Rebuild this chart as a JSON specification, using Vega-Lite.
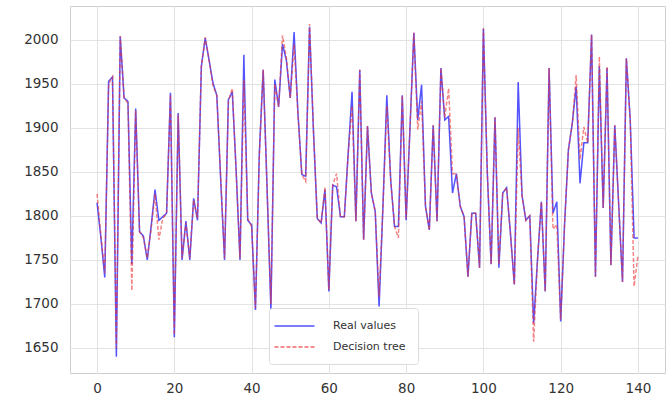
{
  "$schema": "https://vega.github.io/schema/vega-lite/v6.json",
  "width": 595,
  "height": 367,
  "autosize": {"type": "none"},
  "padding": {"left": 70, "top": 6, "right": 7, "bottom": 37},
  "background": "white",
  "config": {
    "view": {"stroke": "#cfcfcf", "strokeWidth": 1},
    "axis": {
      "domain": false,
      "ticks": false,
      "grid": true,
      "gridColor": "#e3e3e3",
      "gridWidth": 1,
      "labelFont": "DejaVu Sans",
      "labelFontSize": 13.5,
      "labelColor": "#333333",
      "title": null
    },
    "legend": {
      "orient": "none",
      "legendX": 199,
      "legendY": 302,
      "fillColor": "white",
      "strokeColor": "#dcdcdc",
      "cornerRadius": 3,
      "padding": 12,
      "rowPadding": 10,
      "labelFont": "DejaVu Sans",
      "labelFontSize": 11,
      "labelColor": "#333333",
      "labelOffset": 40,
      "symbolType": "M-2.5,0H5.5",
      "symbolSize": 100,
      "symbolStrokeWidth": 1.5,
      "title": null
    }
  },
  "data": {
    "values": [
      {"i":0,"real":1815,"tree":1825},{"i":1,"real":1775,"tree":1778},{"i":2,"real":1730,"tree":1735},{"i":3,"real":1953,"tree":1950},{"i":4,"real":1958,"tree":1958},
      {"i":5,"real":1640,"tree":1650},{"i":6,"real":2004,"tree":2004},{"i":7,"real":1934,"tree":1934},{"i":8,"real":1930,"tree":1928},{"i":9,"real":1745,"tree":1715},
      {"i":10,"real":1922,"tree":1920},{"i":11,"real":1782,"tree":1782},{"i":12,"real":1777,"tree":1775},{"i":13,"real":1750,"tree":1752},{"i":14,"real":1788,"tree":1785},
      {"i":15,"real":1830,"tree":1825},{"i":16,"real":1795,"tree":1773},{"i":17,"real":1799,"tree":1797},{"i":18,"real":1803,"tree":1803},{"i":19,"real":1940,"tree":1938},
      {"i":20,"real":1662,"tree":1665},{"i":21,"real":1917,"tree":1915},{"i":22,"real":1750,"tree":1752},{"i":23,"real":1794,"tree":1792},{"i":24,"real":1750,"tree":1752},
      {"i":25,"real":1820,"tree":1818},{"i":26,"real":1795,"tree":1797},{"i":27,"real":1970,"tree":1970},{"i":28,"real":2002,"tree":2003},{"i":29,"real":1977,"tree":1977},
      {"i":30,"real":1951,"tree":1948},{"i":31,"real":1937,"tree":1937},{"i":32,"real":1841,"tree":1845},{"i":33,"real":1750,"tree":1752},{"i":34,"real":1932,"tree":1930},
      {"i":35,"real":1941,"tree":1945},{"i":36,"real":1852,"tree":1850},{"i":37,"real":1750,"tree":1752},{"i":38,"real":1983,"tree":1955},{"i":39,"real":1795,"tree":1797},
      {"i":40,"real":1790,"tree":1788},{"i":41,"real":1693,"tree":1695},{"i":42,"real":1871,"tree":1868},{"i":43,"real":1966,"tree":1966},{"i":44,"real":1833,"tree":1830},
      {"i":45,"real":1692,"tree":1700},{"i":46,"real":1955,"tree":1950},{"i":47,"real":1924,"tree":1924},{"i":48,"real":1995,"tree":2005},{"i":49,"real":1977,"tree":1980},
      {"i":50,"real":1934,"tree":1934},{"i":51,"real":2009,"tree":1995},{"i":52,"real":1917,"tree":1915},{"i":53,"real":1847,"tree":1847},{"i":54,"real":1845,"tree":1839},
      {"i":55,"real":2015,"tree":2018},{"i":56,"real":1898,"tree":1898},{"i":57,"real":1797,"tree":1797},{"i":58,"real":1792,"tree":1792},{"i":59,"real":1830,"tree":1833},
      {"i":60,"real":1714,"tree":1716},{"i":61,"real":1835,"tree":1835},{"i":62,"real":1833,"tree":1848},{"i":63,"real":1799,"tree":1799},{"i":64,"real":1799,"tree":1799},
      {"i":65,"real":1871,"tree":1871},{"i":66,"real":1941,"tree":1925},{"i":67,"real":1794,"tree":1794},{"i":68,"real":1966,"tree":1966},{"i":69,"real":1773,"tree":1773},
      {"i":70,"real":1902,"tree":1902},{"i":71,"real":1826,"tree":1826},{"i":72,"real":1805,"tree":1805},{"i":73,"real":1697,"tree":1708},{"i":74,"real":1811,"tree":1811},
      {"i":75,"real":1937,"tree":1925},{"i":76,"real":1841,"tree":1841},{"i":77,"real":1788,"tree":1788},{"i":78,"real":1788,"tree":1775},{"i":79,"real":1937,"tree":1937},
      {"i":80,"real":1795,"tree":1797},{"i":81,"real":1900,"tree":1900},{"i":82,"real":2008,"tree":2008},{"i":83,"real":1909,"tree":1898},{"i":84,"real":1949,"tree":1930},
      {"i":85,"real":1811,"tree":1811},{"i":86,"real":1784,"tree":1784},{"i":87,"real":1903,"tree":1903},{"i":88,"real":1794,"tree":1794},{"i":89,"real":1968,"tree":1968},
      {"i":90,"real":1909,"tree":1912},{"i":91,"real":1913,"tree":1945},{"i":92,"real":1826,"tree":1848},{"i":93,"real":1848,"tree":1848},{"i":94,"real":1811,"tree":1811},
      {"i":95,"real":1799,"tree":1799},{"i":96,"real":1731,"tree":1731},{"i":97,"real":1803,"tree":1803},{"i":98,"real":1803,"tree":1803},{"i":99,"real":1741,"tree":1741},
      {"i":100,"real":2013,"tree":2013},{"i":101,"real":1850,"tree":1850},{"i":102,"real":1745,"tree":1745},{"i":103,"real":1912,"tree":1912},{"i":104,"real":1741,"tree":1745},
      {"i":105,"real":1826,"tree":1826},{"i":106,"real":1832,"tree":1832},{"i":107,"real":1780,"tree":1780},{"i":108,"real":1722,"tree":1722},{"i":109,"real":1952,"tree":1900},
      {"i":110,"real":1823,"tree":1823},{"i":111,"real":1795,"tree":1795},{"i":112,"real":1800,"tree":1800},{"i":113,"real":1678,"tree":1657},{"i":114,"real":1750,"tree":1750},
      {"i":115,"real":1816,"tree":1816},{"i":116,"real":1714,"tree":1714},{"i":117,"real":1968,"tree":1968},{"i":118,"real":1803,"tree":1785},{"i":119,"real":1816,"tree":1790},
      {"i":120,"real":1680,"tree":1682},{"i":121,"real":1790,"tree":1790},{"i":122,"real":1875,"tree":1875},{"i":123,"real":1905,"tree":1905},{"i":124,"real":1947,"tree":1960},
      {"i":125,"real":1837,"tree":1864},{"i":126,"real":1883,"tree":1901},{"i":127,"real":1883,"tree":1883},{"i":128,"real":2006,"tree":2006},{"i":129,"real":1731,"tree":1731},
      {"i":130,"real":1970,"tree":1981},{"i":131,"real":1809,"tree":1809},{"i":132,"real":1968,"tree":1970},{"i":133,"real":1744,"tree":1744},{"i":134,"real":1903,"tree":1903},
      {"i":135,"real":1814,"tree":1814},{"i":136,"real":1725,"tree":1725},{"i":137,"real":1979,"tree":1979},{"i":138,"real":1909,"tree":1909},{"i":139,"real":1775,"tree":1720},
      {"i":140,"real":1775,"tree":1755}
    ]
  },
  "encoding": {
    "x": {
      "field": "i",
      "type": "quantitative",
      "scale": {"domain": [-7, 147], "nice": false, "zero": false},
      "axis": {"values": [0, 20, 40, 60, 80, 100, 120, 140], "labelPadding": 8}
    }
  },
  "layer": [
    {
      "mark": {"type": "line", "strokeWidth": 1.5, "opacity": 0.75},
      "encoding": {
        "y": {
          "field": "real",
          "type": "quantitative",
          "scale": {"domain": [1621.5, 2038.5], "nice": false, "zero": false},
          "axis": {"values": [1650, 1700, 1750, 1800, 1850, 1900, 1950, 2000], "format": "d", "labelPadding": 12}
        },
        "color": {
          "datum": "Real values",
          "type": "nominal",
          "scale": {"domain": ["Real values", "Decision tree"], "range": ["#1a1aff", "#ee3333"]}
        },
        "strokeDash": {
          "datum": "Real values",
          "type": "nominal",
          "scale": {"domain": ["Real values", "Decision tree"], "range": [[1, 0], [4, 2]]}
        }
      }
    },
    {
      "mark": {"type": "line", "strokeWidth": 1.5, "opacity": 0.6},
      "encoding": {
        "y": {"field": "tree", "type": "quantitative"},
        "color": {"datum": "Decision tree", "type": "nominal"},
        "strokeDash": {"datum": "Decision tree", "type": "nominal"}
      }
    }
  ]
}
